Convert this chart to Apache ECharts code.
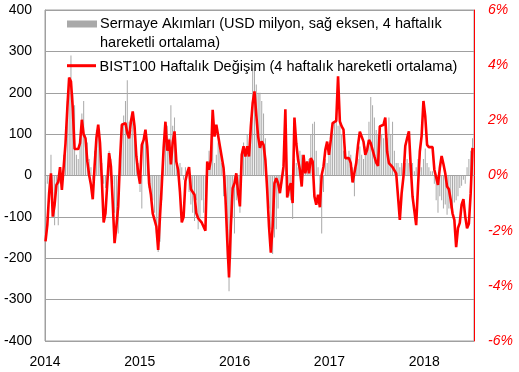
<!DOCTYPE html>
<html>
<head>
<meta charset="utf-8">
<script src="https://cdn.jsdelivr.net/npm/echarts@6/dist/echarts.min.js"></script>
<style>
html,body{margin:0;padding:0;background:#fff;}
#chart{width:519px;height:372px;}
</style>
</head>
<body>
<div id="chart"></div>
<script>
// Weekly observations starting first Friday of 2014
const firstWeek = '2014-01-03';
const yearTicks = [2014, 2015, 2016, 2017, 2018];
const leftTicks = [-400, -300, -200, -100, 0, 100, 200, 300, 400];
const rightTicks = [-6, -4, -2, 0, 2, 4, 6];
const barName = 'Sermaye Akımları (USD milyon, sağ eksen, 4 haftalık hareketli ortalama)';
const lineName = 'BIST100 Haftalık Değişim (4 haftalık hareketli ortalama)';

// Capital flows, USD million (4-week moving average)
const flows = [
-15,-20,-40,50,-60,-120,-40,-120,-20,-30,
50,70,180,230,290,200,170,50,40,80,
150,180,100,80,40,20,-10,60,110,120,
80,30,-20,-30,-10,60,40,-20,-90,-120,
-140,20,120,145,180,230,130,110,140,100,
70,30,-40,-80,100,110,60,-30,-60,-60,
-90,-140,-185,-160,-60,60,100,120,90,170,
120,140,60,20,30,20,-10,20,10,-40,
-70,-90,-110,-60,-130,-100,-60,-90,-70,30,
60,40,100,30,50,80,60,30,-50,-70,
-200,-280,-200,-100,-140,-60,-40,-90,40,80,
50,100,70,140,260,265,220,200,200,180,
150,90,-40,-80,-130,-190,-150,-130,-80,-40,
-20,20,40,-20,-50,-60,-105,40,30,20,
60,50,30,20,10,40,100,125,130,60,
20,-60,-140,-40,40,30,60,100,110,130,
140,120,130,100,60,70,40,60,50,20,
-50,20,40,70,50,40,70,60,130,190,
170,140,110,100,110,100,90,130,90,140,
100,130,60,30,30,20,30,20,30,40,
30,20,30,10,20,40,20,20,40,65,
30,20,10,10,-20,-60,-90,-50,-60,-80,
-70,-95,-80,-80,-90,-65,-60,-50,-30,-25,
-10,-20,20,40,60,90
];

// BIST100 weekly change, % (4-week moving average)
const bist = [
-2.39,-1.79,-0.64,0.08,-1.49,-1.06,-0.34,-0.23,0.30,-0.52,
-0.58,1.17,2.44,3.55,3.41,2.44,0.96,0.99,0.96,1.17,
2.02,1.48,1.35,0.51,0.02,-0.34,-0.86,0.33,1.35,1.84,
1.17,-0.16,-1.70,-1.37,-0.28,0.81,0.33,-1.00,-2.45,-1.85,
-1.12,0.57,1.84,1.90,1.90,1.54,1.35,1.96,2.32,1.78,
0.69,0.10,-0.30,1.11,1.29,1.66,1.05,-0.28,-0.70,-1.37,
-1.34,-1.85,-2.70,-1.49,-0.34,0.99,1.95,0.90,1.30,0.40,
1.20,1.60,0.50,0.20,-0.60,-1.70,-1.50,-0.20,0.10,0.30,
-0.50,-0.60,-0.70,-1.37,-1.55,-1.61,-1.71,-1.67,-2.00,0.51,
0.21,0.57,2.38,1.41,1.84,1.78,1.05,1.11,0.27,-0.76,
-2.33,-3.70,-1.85,-0.46,-0.28,0.08,-0.64,-1.12,0.75,1.06,
0.69,1.06,0.69,1.78,2.62,3.05,2.20,1.42,1.00,1.24,
1.11,0.57,-0.52,-1.85,-2.80,-1.85,-0.28,-0.10,-0.28,-0.64,
-0.16,0.33,2.40,-0.80,-0.46,-0.28,-1.00,2.10,1.17,0.57,
0.21,-0.40,0.75,0.08,0.51,0.08,0.63,0.51,-0.76,-1.06,
-0.70,-1.15,0.02,0.33,0.93,1.23,0.75,1.29,1.90,1.90,
1.98,3.60,1.96,1.78,1.66,0.63,0.59,0.63,0.45,-0.25,
-0.28,0.45,1.11,1.59,1.41,1.23,0.75,0.93,1.29,1.17,
0.93,0.69,0.47,0.35,1.78,1.80,1.84,2.10,0.87,0.45,
0.39,0.30,0.30,0.08,-0.76,-1.61,-0.64,-0.04,1.07,1.35,
1.60,0.33,-0.76,-0.79,-1.80,-0.40,0.87,1.44,2.70,2.14,
1.11,1.03,0.99,1.03,0.21,0.18,-0.34,0.27,0.71,0.42,
0.08,-0.40,-0.50,-0.88,-1.37,-1.61,-2.60,-1.91,-1.72,-1.06,
-0.86,-1.49,-1.91,-1.75,-0.64,1.00
];

const DAY = 86400000;
const t0 = Date.parse(firstWeek + 'T00:00:00Z');
const yearStart = Date.UTC(2014, 0, 1);
function weekX(i) { return 2014 + (t0 + i * 7 * DAY - yearStart) / (365.25 * DAY); }
const barData = flows.map((v, i) => [weekX(i), v]);
const lineData = bist.map((v, i) => [weekX(i), v]);

const FONT = '"Liberation Sans", Arial, sans-serif';
const chart = echarts.init(document.getElementById('chart'), null, {renderer: 'canvas'});
chart.setOption({
  animation: false,
  backgroundColor: '#ffffff',
  grid: {left: 45, right: 45, top: 10, bottom: 31, show: true, borderColor: '#a0a0a0', borderWidth: 1, backgroundColor: 'transparent'},
  xAxis: {
    type: 'value', min: yearTicks[0], max: 2018.525, interval: 1,
    axisLine: {show: true, lineStyle: {color: '#a0a0a0', width: 1}},
    axisTick: {show: false}, splitLine: {show: false},
    axisLabel: {margin: 14, color: '#000', fontFamily: FONT, fontSize: 14, showMaxLabel: false,
      formatter: v => yearTicks.includes(Math.round(v)) ? String(Math.round(v)) : ''}
  },
  yAxis: [{
    type: 'value', min: leftTicks[0], max: leftTicks[leftTicks.length - 1], interval: 100,
    axisLine: {show: true, lineStyle: {color: '#a0a0a0', width: 1}},
    axisTick: {show: false},
    splitLine: {show: true, lineStyle: {color: '#a0a0a0', width: 1}},
    axisLabel: {margin: 13, color: '#000', fontFamily: FONT, fontSize: 14}
  }, {
    type: 'value', min: rightTicks[0], max: rightTicks[rightTicks.length - 1], interval: 2, position: 'right',
    axisLine: {show: true, lineStyle: {color: '#ff0000', width: 1}},
    axisTick: {show: false}, splitLine: {show: false},
    axisLabel: {margin: 14, color: '#ff0000', fontFamily: FONT, fontSize: 14, fontStyle: 'italic', formatter: v => v + '%'}
  }],
  series: [{
    name: barName, type: 'bar', yAxisIndex: 0, data: barData, barWidth: 1,
    itemStyle: {color: '#a9a9a9'}, z: 2
  }, {
    name: lineName, type: 'line', yAxisIndex: 1, data: lineData, showSymbol: false, symbol: 'none',
    lineStyle: {color: '#ff0000', width: 2.6}, z: 3
  }],
  graphic: [
    {type: 'rect', shape: {x: 67, y: 20.5, width: 30, height: 7}, style: {fill: '#a9a9a9'}, z: 10},
    {type: 'text', x: 100, y: 24, style: {text: 'Sermaye Akımları (USD milyon, sağ eksen, 4 haftalık', fill: '#000', font: '14.5px ' + FONT, textVerticalAlign: 'middle'}, z: 10},
    {type: 'text', x: 100, y: 42.5, style: {text: 'hareketli ortalama)', fill: '#000', font: '14.5px ' + FONT, textVerticalAlign: 'middle'}, z: 10},
    {type: 'line', shape: {x1: 67, y1: 65.7, x2: 96, y2: 65.7}, style: {stroke: '#ff0000', lineWidth: 3}, z: 10},
    {type: 'text', x: 99.5, y: 66.5, style: {text: 'BIST100 Haftalık Değişim (4 haftalık hareketli ortalama)', fill: '#000', font: '14.5px ' + FONT, textVerticalAlign: 'middle'}, z: 10}
  ]
});
</script>
</body>
</html>
